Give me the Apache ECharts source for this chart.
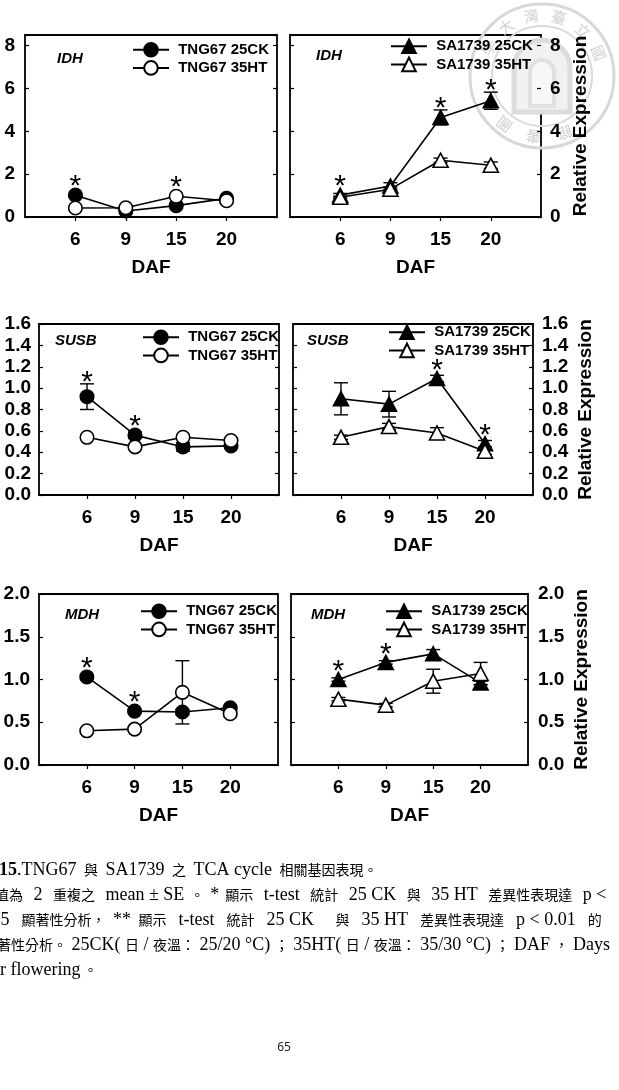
<!DOCTYPE html>
<html>
<head>
<meta charset="utf-8">
<script src="https://cdn.jsdelivr.net/npm/echarts@6/dist/echarts.min.js"></script>
<style>
html, body { margin: 0; padding: 0; background: #fff; }
#main { width: 619px; height: 1090px; }
</style>
</head>
<body>
<div id="main"></div>
<script>
// DAF categories (blank slots pad both ends of the axis)
var daf = ['6', '9', '15', '20'];
var xCats = [' '].concat(daf, ['  ']);

// IDH
var idhTngCK = [1.02, 0.28, 0.53, 0.87];
var idhTngCKse = [0.05, 0.03, 0.05, 0.05];
var idhTngHT = [0.42, 0.43, 0.97, 0.76];
var idhTngHTse = [0.03, 0.03, 0.05, 0.04];
var idhSaCK = [1.02, 1.45, 4.65, 5.43];
var idhSaCKse = [0.08, 0.15, 0.35, 0.40];
var idhSaHT = [0.92, 1.30, 2.65, 2.42];
var idhSaHTse = [0.05, 0.10, 0.10, 0.15];
// SUSB
var susbTngCK = [0.92, 0.56, 0.45, 0.46];
var susbTngCKse = [0.12, 0.03, 0.04, 0.02];
var susbTngHT = [0.54, 0.45, 0.54, 0.51];
var susbTngHTse = [0.02, 0.02, 0.02, 0.02];
var susbSaCK = [0.90, 0.85, 1.09, 0.48];
var susbSaCKse = [0.15, 0.12, 0.03, 0.03];
var susbSaHT = [0.54, 0.64, 0.58, 0.41];
var susbSaHTse = [0.02, 0.03, 0.05, 0.03];
// MDH
var mdhTngCK = [1.03, 0.63, 0.62, 0.67];
var mdhTngCKse = [0.02, 0.02, 0.03, 0.02];
var mdhTngHT = [0.40, 0.42, 0.85, 0.60];
var mdhTngHTse = [0.02, 0.02, 0.37, 0.03];
var mdhSaCK = [1.00, 1.20, 1.30, 0.96];
var mdhSaCKse = [0.02, 0.02, 0.05, 0.02];
var mdhSaHT = [0.77, 0.70, 0.98, 1.07];
var mdhSaHTse = [0.02, 0.02, 0.14, 0.13];

// t-test significance (index into daf)
var idhTngStar = [0, 2];
var idhSaStar = [0, 2, 3];
var susbTngStar = [0, 1];
var susbSaStar = [2, 3];
var mdhTngStar = [0, 1];
var mdhSaStar = [0, 1];

// y scales per row
var yMax = [8.5, 1.6, 2.0];
var yStep = [2, 0.2, 0.5];
var yDigits = [0, 1, 1];

var capTitle = '.TNG67 與 SA1739 之 TCA cycle 相關基因表現。';
var capLines = [
    '值為 2 重複之 mean ± SE。*顯示 t-test 統計 25 CK 與 35 HT 差異性表現達 p <',
    '0.05 顯著性分析，**顯示 t-test 統計 25 CK　與 35 HT 差異性表現達 p < 0.01 的',
    '顯著性分析。25CK(日/夜溫：25/20 °C)；35HT(日/夜溫：35/30 °C)；DAF，Days',
    'after flowering。'
];

var panels = [
    {gene: 'IDH', cv: 'TNG67', shape: 'circle', row: 0, right: false, ck: idhTngCK, ckSe: idhTngCKse, ht: idhTngHT, htSe: idhTngHTse, star: idhTngStar},
    {gene: 'IDH', cv: 'SA1739', shape: 'triangle', row: 0, right: true, ck: idhSaCK, ckSe: idhSaCKse, ht: idhSaHT, htSe: idhSaHTse, star: idhSaStar},
    {gene: 'SUSB', cv: 'TNG67', shape: 'circle', row: 1, right: false, ck: susbTngCK, ckSe: susbTngCKse, ht: susbTngHT, htSe: susbTngHTse, star: susbTngStar},
    {gene: 'SUSB', cv: 'SA1739', shape: 'triangle', row: 1, right: true, ck: susbSaCK, ckSe: susbSaCKse, ht: susbSaHT, htSe: susbSaHTse, star: susbSaStar},
    {gene: 'MDH', cv: 'TNG67', shape: 'circle', row: 2, right: false, ck: mdhTngCK, ckSe: mdhTngCKse, ht: mdhTngHT, htSe: mdhTngHTse, star: mdhTngStar},
    {gene: 'MDH', cv: 'SA1739', shape: 'triangle', row: 2, right: true, ck: mdhSaCK, ckSe: mdhSaCKse, ht: mdhSaHT, htSe: mdhSaHTse, star: mdhSaStar}
];

// frame, legend and gene-tag spots for each panel
var boxes = [
    {left: 25, top: 35, width: 252, height: 182, legend: [132, 42], tag: [57, 59], yMargin: 10, nameGap: 30},
    {left: 290, top: 35, width: 251, height: 182, legend: [390, 38.5], tag: [316, 56], yMargin: 9, nameGap: 30},
    {left: 39, top: 324, width: 240, height: 171, legend: [142, 329.5], tag: [55, 341], yMargin: 8, nameGap: 0},
    {left: 293, top: 324, width: 240, height: 171, legend: [388, 324.5], tag: [307, 341], yMargin: 9, nameGap: 43},
    {left: 39, top: 594, width: 239, height: 171, legend: [140, 603.5], tag: [65, 615], yMargin: 9, nameGap: 0},
    {left: 291, top: 594, width: 237, height: 171, legend: [385, 603.5], tag: [311, 615], yMargin: 10, nameGap: 44}
];

var FONT = '"Liberation Sans", Arial, sans-serif';
var black = '#000';

function errBars(g, name, vals, ses) {
    return {
        type: 'custom', name: name + ' SE', xAxisIndex: g, yAxisIndex: g * 2, z: 2, silent: true,
        data: daf.map(function (d, i) { return [d, vals[i], ses[i]]; }),
        renderItem: function (params, api) {
            var x = api.value(0), m = api.value(1), s = api.value(2);
            var t = api.coord([x, m + s]), b = api.coord([x, m - s]);
            var hw = 7, st = {stroke: black, lineWidth: 1.4};
            return {type: 'group', children: [
                {type: 'line', shape: {x1: t[0], y1: t[1], x2: b[0], y2: b[1]}, style: st},
                {type: 'line', shape: {x1: t[0] - hw, y1: t[1], x2: t[0] + hw, y2: t[1]}, style: st},
                {type: 'line', shape: {x1: b[0] - hw, y1: b[1], x2: b[0] + hw, y2: b[1]}, style: st}
            ]};
        }
    };
}

function lineSeries(g, name, vals, shape, filled) {
    return {
        type: 'line', name: name, xAxisIndex: g, yAxisIndex: g * 2, z: 3,
        data: daf.map(function (d, i) { return [d, vals[i]]; }),
        symbol: shape,
        symbolSize: shape === 'circle' ? 13.5 : [15, 14],
        showAllSymbol: true,
        lineStyle: {color: black, width: 1.6},
        itemStyle: {color: filled ? black : '#fff', borderColor: black, borderWidth: 1.6},
        emphasis: {disabled: true}
    };
}

function starSeries(g, p) {
    return {
        type: 'custom', name: p.gene + p.cv + ' sig', xAxisIndex: g, yAxisIndex: g * 2, z: 4, silent: true,
        data: p.star.map(function (i) { return [daf[i], p.ck[i], p.ckSe[i], p.ht[i], p.htSe[i]]; }),
        renderItem: function (params, api) {
            var x = api.value(0);
            var a = api.coord([x, api.value(1)]), b = api.coord([x, api.value(1) + api.value(2)]);
            var c = api.coord([x, api.value(3)]), d = api.coord([x, api.value(3) + api.value(4)]);
            var y = Math.min(a[1] - 16, b[1] - 9, c[1] - 16, d[1] - 9);
            return {type: 'text', x: a[0], y: y + 8, style: {text: '*', fill: black, font: '30px ' + FONT, align: 'center', verticalAlign: 'middle'}};
        }
    };
}

var grid = [], xAxis = [], yAxis = [], series = [], legend = [], graphic = [];

panels.forEach(function (p, g) {
    var b = boxes[g], r = p.row;
    grid.push({left: b.left, top: b.top, width: b.width, height: b.height, show: true,
        borderColor: black, borderWidth: 1.8, backgroundColor: 'rgba(0,0,0,0)', outerBoundsMode: 'none'});

    xAxis.push({
        type: 'category', gridIndex: g, data: xCats, boundaryGap: false,
        name: 'DAF', nameLocation: 'middle', nameGap: 41,
        nameTextStyle: {fontSize: 19, fontWeight: 'bold', color: black, fontFamily: FONT},
        axisLine: {show: false},
        axisTick: {show: true, length: 4, interval: function (i) { return i > 0 && i < 5; }, lineStyle: {color: black, width: 1.2}},
        axisLabel: {interval: 0, margin: 13, fontSize: 19, fontWeight: 'bold', color: black, fontFamily: FONT},
        splitLine: {show: false}
    });

    var step = yStep[r], digits = yDigits[r];
    function yBase(side, labelled) {
        var ax = {
            type: 'value', gridIndex: g, min: 0, max: yMax[r], interval: step, position: side,
            axisLine: {show: false}, splitLine: {show: false},
            axisTick: {show: true, inside: true, length: 4, lineStyle: {color: black, width: 1.2}},
            axisLabel: {
                show: labelled, margin: b.yMargin, fontSize: 19, fontWeight: 'bold', color: black, fontFamily: FONT,
                formatter: function (v) {
                    var k = v / step;
                    return Math.abs(k - Math.round(k)) > 1e-6 ? '' : v.toFixed(digits);
                }
            }
        };
        if (labelled && p.right) {
            ax.name = 'Relative Expression';
            ax.nameLocation = 'middle';
            ax.nameRotate = 90;
            ax.nameGap = b.nameGap;
            ax.nameMoveOverlap = false;
            ax.nameTextStyle = {fontSize: 19, fontWeight: 'bold', color: black, fontFamily: FONT};
        }
        return ax;
    }
    yAxis.push(yBase(p.right ? 'right' : 'left', true));
    yAxis.push(yBase(p.right ? 'left' : 'right', false));

    var ckName = p.cv + ' 25CK', htName = p.cv + ' 35HT';
    series.push(errBars(g, ckName, p.ck, p.ckSe));
    series.push(errBars(g, htName, p.ht, p.htSe));
    series.push(lineSeries(g, ckName, p.ck, p.shape, true));
    series.push(lineSeries(g, htName, p.ht, p.shape, false));
    series.push(starSeries(g, p));

    legend.push({
        data: [ckName, htName], orient: 'vertical', left: b.legend[0], top: b.legend[1],
        itemWidth: 36, itemHeight: 17, itemGap: 2.5, padding: 0, selectedMode: false,
        formatter: function (n) { return ' ' + n; },
        textStyle: {fontSize: 15, fontWeight: 'bold', color: black, fontFamily: FONT}
    });

    graphic.push({type: 'text', x: b.tag[0], y: b.tag[1], silent: true,
        style: {text: p.gene, fill: black, font: 'italic bold 15px ' + FONT, verticalAlign: 'middle'}});
});

// library seal watermark behind the top-right panel
var sealChars = [['臺', 74], ['灣', 100], ['大', 126], ['學', 152], ['立', 48], ['國', 22], ['圖', 232], ['書', 262], ['館', 292]];
var sealKids = [
    {type: 'circle', shape: {cx: 0, cy: 0, r: 72}, style: {fill: 'none', stroke: '#d8d8d8', lineWidth: 3}},
    {type: 'circle', shape: {cx: 0, cy: 0, r: 50}, style: {fill: 'none', stroke: '#dadada', lineWidth: 2}},
    {type: 'rect', shape: {x: -28, y: -36, width: 56, height: 72, r: [28, 28, 0, 0]},
        style: {fill: '#f1f1f1', stroke: '#dcdcdc', lineWidth: 5}},
    {type: 'rect', shape: {x: -12, y: -16, width: 24, height: 46, r: [12, 12, 0, 0]},
        style: {fill: '#f8f8f8', stroke: '#e0e0e0', lineWidth: 4}}
];
sealChars.forEach(function (c) {
    var a = c[1] * Math.PI / 180;
    sealKids.push({type: 'text', x: 61 * Math.cos(a), y: -61 * Math.sin(a), rotation: a - Math.PI / 2,
        style: {text: c[0], fill: '#d0d0d0', font: '15px "Noto Sans CJK TC"', align: 'center', verticalAlign: 'middle'}});
});
graphic.push({type: 'group', x: 542, y: 76, z: -10, silent: true, children: sealKids});

// caption under the figure (left part clipped by page crop); CJK runs get
// per-line padding so the justified lines reach the right margin
var capPad = [3, 6, 7.5, 4.5, 3];
var capRich = {
    c0: {fontSize: 14, fontFamily: '"Noto Sans CJK TC"', verticalAlign: 'middle', color: '#222'},
    l: {fontSize: 18, fontFamily: '"Liberation Serif"', verticalAlign: 'middle', color: '#111'},
    lb: {fontSize: 18, fontFamily: '"Liberation Serif"', fontWeight: 'bold', verticalAlign: 'middle', color: '#111'}
};
capPad.forEach(function (pd, i) {
    capRich['c' + (i + 1)] = {fontSize: 14, fontFamily: '"Noto Sans CJK TC"', verticalAlign: 'middle', color: '#222', padding: [0, pd]};
});
function richify(str, tag) {
    return str.replace(/([\u2E80-\u9FFF\u3000-\u303F\uFF00-\uFFEF]+)|([^\u2E80-\u9FFF\u3000-\u303F\uFF00-\uFFEF]+)/g,
        function (m, c) { return c ? '{' + tag + '|' + m + '}' : '{l|' + m + '}'; });
}
var capY0 = 870, capDy = 25;
graphic.push({type: 'text', x: -15, y: capY0, silent: true,
    style: {text: '{c0|圖}{lb|15}' + richify(capTitle, 'c1'), rich: capRich, verticalAlign: 'middle'}});
var capX = [-11, -22, -21.5, -27];
capLines.forEach(function (s, i) {
    graphic.push({type: 'text', x: capX[i], y: capY0 + (i + 1) * capDy, silent: true,
        style: {text: richify(s, 'c' + (i + 2)), rich: capRich, verticalAlign: 'middle'}});
});
graphic.push({type: 'text', x: 284, y: 1048, silent: true,
    style: {text: '65', fill: '#222', font: '12px "Noto Sans"', align: 'center', verticalAlign: 'middle'}});

var chart = echarts.init(document.getElementById('main'));
chart.setOption({
    animation: false,
    backgroundColor: '#fff',
    textStyle: {fontFamily: FONT},
    grid: grid,
    xAxis: xAxis,
    yAxis: yAxis,
    legend: legend,
    graphic: graphic,
    series: series
});
</script>
</body>
</html>
